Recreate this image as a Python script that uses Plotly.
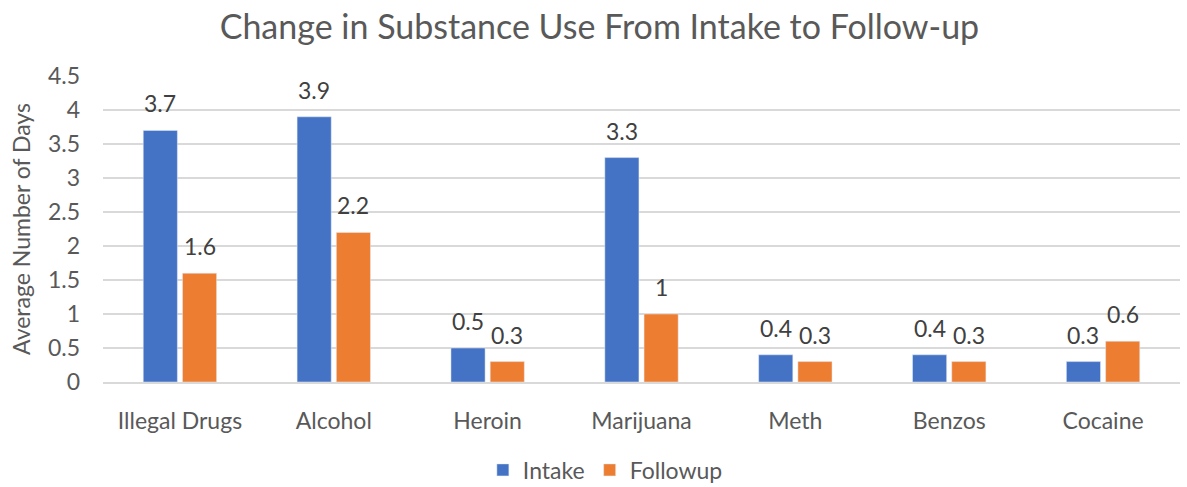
import plotly.graph_objects as go

categories = ["Illegal Drugs", "Alcohol", "Heroin", "Marijuana", "Meth", "Benzos", "Cocaine"]
intake = [3.7, 3.9, 0.5, 3.3, 0.4, 0.4, 0.3]
followup = [1.6, 2.2, 0.3, 1, 0.3, 0.3, 0.6]
y_ticks = [0, 0.5, 1, 1.5, 2, 2.5, 3, 3.5, 4, 4.5]
y_tick_text = ["0", "0.5", "1", "1.5", "2", "2.5", "3", "3.5", "4", "4.5"]

FONT = "Lato, 'Open Sans', sans-serif"
TEXT = "#595959"
LABEL = "#404040"

BARGAP = 0.49
PLOT_W = 1187 - 103 - 7
slot_px = PLOT_W / len(categories) * (1 - BARGAP) / 2

fig = go.Figure()
fig.add_trace(go.Bar(name="Intake", x=categories, y=intake, marker=dict(color="#4472C4")))
fig.add_trace(go.Bar(name="Followup", x=categories, y=followup, marker=dict(color="#ED7D31")))

# value labels above each bar, offset to each bar's slot in the group
for series, shift in ((intake, -slot_px / 2), (followup, slot_px / 2)):
    for cat, v in zip(categories, series):
        fig.add_annotation(x=cat, y=v, text=f"{v:g}", showarrow=False,
                           xshift=shift, yshift=11, yanchor="bottom",
                           font=dict(size=23, color=LABEL, family=FONT))

fig.update_layout(
    width=1187, height=487,
    margin=dict(l=103, r=7, t=76, b=105, autoexpand=False),
    paper_bgcolor="white", plot_bgcolor="white",
    font=dict(family=FONT, color=TEXT),
    title=dict(text="Change in Substance Use From Intake to Follow-up",
               x=0.505, xanchor="center", y=0.945, yanchor="middle",
               font=dict(size=34, color=TEXT, family=FONT)),
    barmode="group", bargap=BARGAP, bargroupgap=0.13,
    legend=dict(orientation="h", xref="container", x=0.51, xanchor="center",
                yref="container", y=0.035, yanchor="middle",
                font=dict(size=23, color=TEXT), traceorder="normal"),
    xaxis=dict(tickfont=dict(size=23, color=TEXT), showline=True,
               linecolor="#d9d9d9", linewidth=1.5, ticks="", ticklabelstandoff=18),
    yaxis=dict(range=[0, 4.5], tickvals=y_ticks, ticktext=y_tick_text,
               tickfont=dict(size=23, color=TEXT),
               showgrid=True, gridcolor="#d9d9d9", gridwidth=1.5, zeroline=False,
               ticklabelstandoff=22,
               title=dict(text="Average Number of Days", font=dict(size=23, color=TEXT),
                          standoff=10)),
)

fig.write_html("out.html")
